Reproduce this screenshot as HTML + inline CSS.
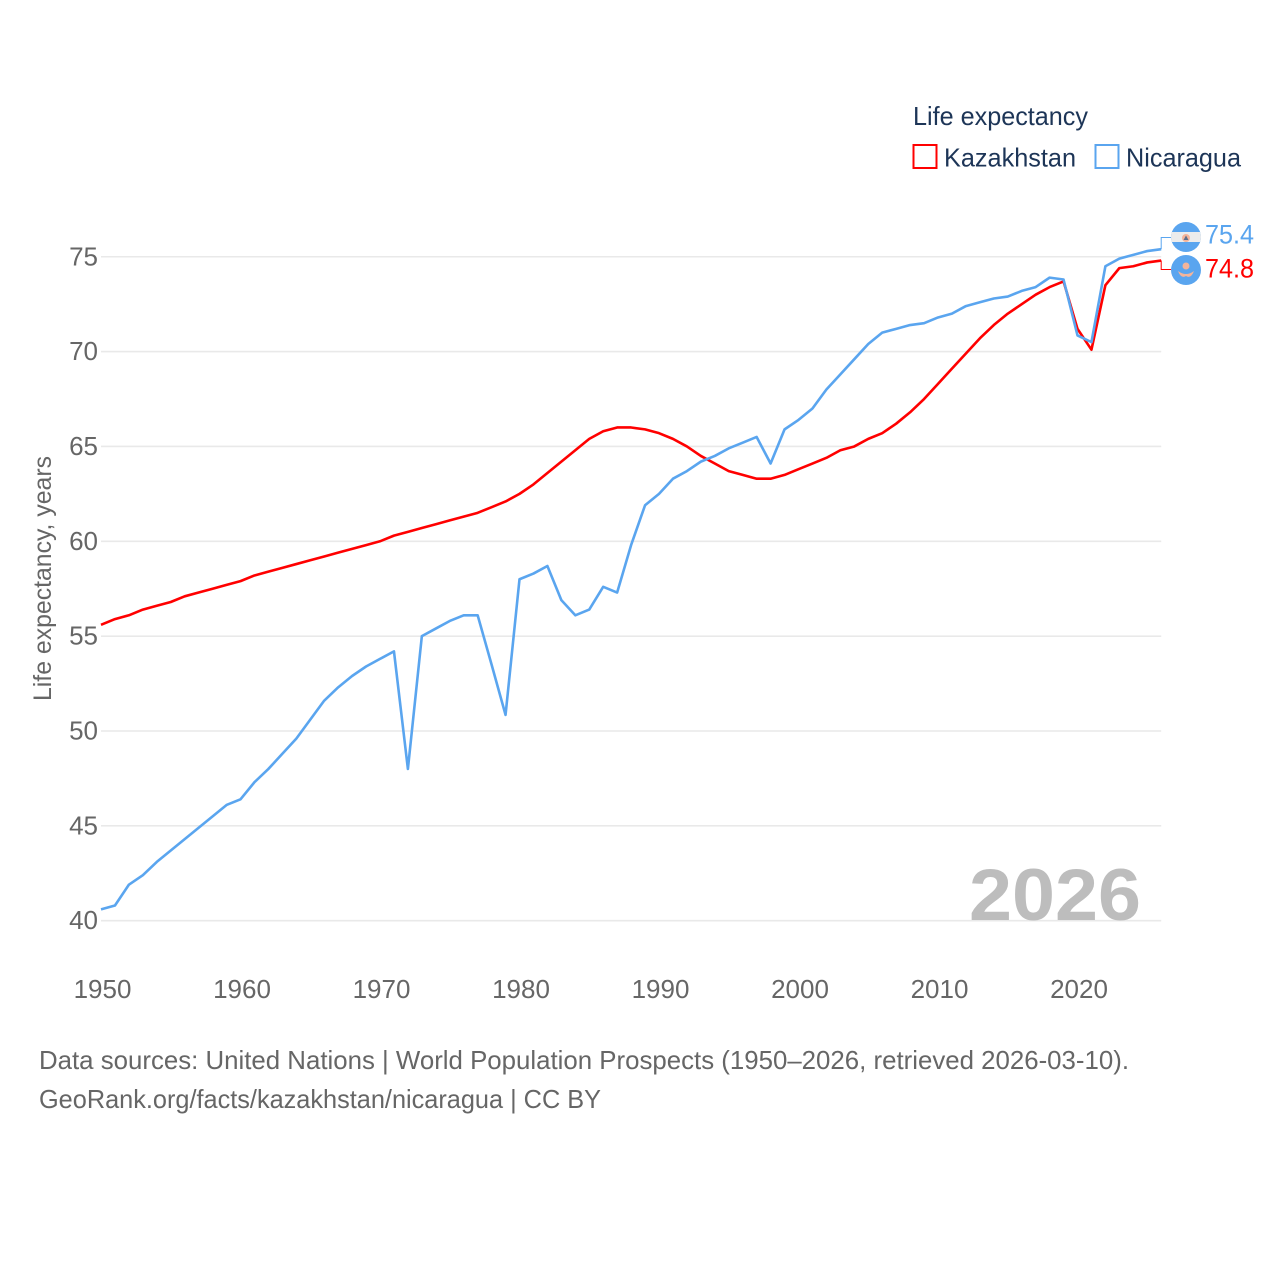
<!DOCTYPE html>
<html>
<head>
<meta charset="utf-8">
<title>Life expectancy: Kazakhstan and Nicaragua</title>
<style>
html,body{margin:0;padding:0;background:#fff;}
svg{display:block;font-family:"Liberation Sans",sans-serif;}
</style>
</head>
<body>
<svg id="chart" width="1280" height="1280" viewBox="0 0 1280 1280" xmlns="http://www.w3.org/2000/svg">
  <rect width="1280" height="1280" fill="#fff"/>
  <g id="grid"></g>
  <g id="yticks"></g>
  <g id="xticks"></g>
  <text x="969" y="920" font-size="73" font-weight="bold" fill="#bdbdbd" textLength="172" lengthAdjust="spacingAndGlyphs">2026</text>
  <text transform="translate(51,701) rotate(-90)" font-size="25" fill="#666" textLength="245" lengthAdjust="spacingAndGlyphs">Life expectancy, years</text>
  <g id="series"></g>

  <g>
    <text x="913" y="125" font-size="26" fill="#1d3557" textLength="175" lengthAdjust="spacingAndGlyphs">Life expectancy</text>
    <rect x="913.5" y="145" width="23" height="23" fill="#fff" stroke="#ff0000" stroke-width="2"/>
    <text x="944" y="166.5" font-size="26" fill="#1d3557" textLength="132" lengthAdjust="spacingAndGlyphs">Kazakhstan</text>
    <rect x="1095.5" y="145" width="23" height="23" fill="#fff" stroke="#5aa5ef" stroke-width="2"/>
    <text x="1126" y="166.5" font-size="26" fill="#1d3557" textLength="115" lengthAdjust="spacingAndGlyphs">Nicaragua</text>
  </g>

  <defs>
    <clipPath id="flag-clip-ni"><circle cx="1186" cy="237" r="15"/></clipPath>
  </defs>
  <g>
    <circle cx="1186" cy="237" r="15" fill="#5aa5ef"/>
    <rect x="1171" y="232" width="30" height="10" fill="#ececec" clip-path="url(#flag-clip-ni)"/>
    <circle cx="1186" cy="238" r="4" fill="#f4b49a"/>
    <path d="M1183.5 240 L1186 235.5 L1188.5 240 Z" fill="#5c6f8c"/>
  </g>
  <g>
    <circle cx="1186" cy="270" r="15" fill="#5aa5ef"/>
    <circle cx="1186" cy="266" r="3.5" fill="#f4b49a"/>
    <path d="M1178 271 Q1186 277 1194 271 Q1191 279 1186 276 Q1181 279 1178 271 Z" fill="#f4b49a"/>
  </g>
  <text x="1205" y="243.5" font-size="27" fill="#5aa5ef" textLength="49" lengthAdjust="spacingAndGlyphs">75.4</text>
  <text x="1205" y="277.5" font-size="27" fill="#ff0000" textLength="49" lengthAdjust="spacingAndGlyphs">74.8</text>

  <text x="39" y="1069" font-size="26" fill="#666" textLength="1090" lengthAdjust="spacingAndGlyphs">Data sources: United Nations | World Population Prospects (1950–2026, retrieved 2026-03-10).</text>
  <text x="39" y="1108" font-size="26" fill="#666" textLength="562" lengthAdjust="spacingAndGlyphs">GeoRank.org/facts/kazakhstan/nicaragua | CC BY</text>
</svg>
<script>
const startYear = 1950;
const yTickValues = [40, 45, 50, 55, 60, 65, 70, 75];
const xTickValues = [1950, 1960, 1970, 1980, 1990, 2000, 2010, 2020];
const kazakhstan = [
  55.6, 55.9, 56.1, 56.4, 56.6, 56.8, 57.1, 57.3, 57.5, 57.7,
  57.9, 58.2, 58.4, 58.6, 58.8, 59.0, 59.2, 59.4, 59.6, 59.8,
  60.0, 60.3, 60.5, 60.7, 60.9, 61.1, 61.3, 61.5, 61.8, 62.1,
  62.5, 63.0, 63.6, 64.2, 64.8, 65.4, 65.8, 66.0, 66.0, 65.9,
  65.7, 65.4, 65.0, 64.5, 64.1, 63.7, 63.5, 63.3, 63.3, 63.5,
  63.8, 64.1, 64.4, 64.8, 65.0, 65.4, 65.7, 66.2, 66.8, 67.5,
  68.3, 69.1, 69.9, 70.7, 71.4, 72.0, 72.5, 73.0, 73.4, 73.7,
  71.2, 70.1, 73.5, 74.4, 74.5, 74.7, 74.8
];
const nicaragua = [
  40.6, 40.8, 41.9, 42.4, 43.1, 43.7, 44.3, 44.9, 45.5, 46.1,
  46.4, 47.3, 48.0, 48.8, 49.6, 50.6, 51.6, 52.3, 52.9, 53.4,
  53.8, 54.2, 48.0, 55.0, 55.4, 55.8, 56.1, 56.1, 53.5, 50.85,
  58.0, 58.3, 58.7, 56.9, 56.1, 56.4, 57.6, 57.3, 59.8, 61.9,
  62.5, 63.3, 63.7, 64.2, 64.5, 64.9, 65.2, 65.5, 64.1, 65.9,
  66.4, 67.0, 68.0, 68.8, 69.6, 70.4, 71.0, 71.2, 71.4, 71.5,
  71.8, 72.0, 72.4, 72.6, 72.8, 72.9, 73.2, 73.4, 73.9, 73.8,
  70.85, 70.5, 74.5, 74.9, 75.1, 75.3, 75.4
];

const NS = 'http://www.w3.org/2000/svg';
const xScale = function (year) { return 101 + (year - 1950) * 13.95; };
const yScale = function (v) { return 920.7 - (v - 40) * 18.97; };
const plotRight = xScale(2026);

function make(tag, attrs, parent) {
  const el = document.createElementNS(NS, tag);
  Object.keys(attrs).forEach(function (k) { el.setAttribute(k, attrs[k]); });
  parent.appendChild(el);
  return el;
}

const gridGroup = document.getElementById('grid');
const yGroup = document.getElementById('yticks');
const xGroup = document.getElementById('xticks');
const seriesGroup = document.getElementById('series');

yTickValues.forEach(function (v) {
  const line = make('line', { x1: xScale(1950), x2: plotRight, y1: yScale(v), y2: yScale(v), stroke: '#e9e9e9', 'stroke-width': 1.6 }, gridGroup);
  
  
  const label = make('text', { x: 98, y: yScale(v) + 8.5, 'font-size': 26, fill: '#666', 'text-anchor': 'end' }, yGroup);
  
  
  label.textContent = v;
});

xTickValues.forEach(function (year) {
  const label = make('text', { x: xScale(year) + 1.5, y: 998, 'font-size': 26, fill: '#666', 'text-anchor': 'middle' }, xGroup);
  
  
  label.textContent = year;
});

function pointsOf(values) {
  return values.map(function (v, i) { return xScale(startYear + i).toFixed(2) + ',' + yScale(v).toFixed(2); }).join(' ');
}

const lineK = make('polyline', { points: pointsOf(kazakhstan), fill: 'none', stroke: '#ff0000', 'stroke-width': 2.6, 'stroke-linejoin': 'round' }, seriesGroup);



const lineN = make('polyline', { points: pointsOf(nicaragua), fill: 'none', stroke: '#5aa5ef', 'stroke-width': 2.6, 'stroke-linejoin': 'round' }, seriesGroup);



const lastK = kazakhstan[kazakhstan.length - 1];
const lastN = nicaragua[nicaragua.length - 1];
const connK = make('polyline', { points: plotRight + ',' + yScale(lastK) + ' ' + plotRight + ',269.5 1171,269.5', fill: 'none', stroke: '#ff0000', 'stroke-width': 1 }, seriesGroup);


const connN = make('polyline', { points: plotRight + ',' + yScale(lastN) + ' ' + plotRight + ',237.5 1171,237.5', fill: 'none', stroke: '#5aa5ef', 'stroke-width': 1 }, seriesGroup);


</script>
</body>
</html>
